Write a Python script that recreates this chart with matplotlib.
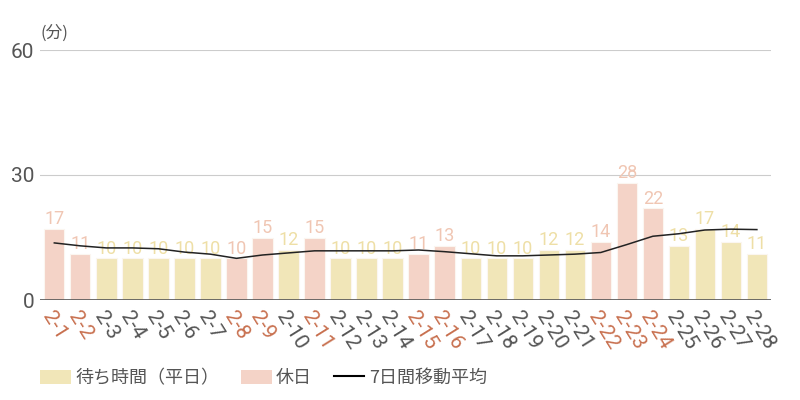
import numpy as np
import matplotlib.pyplot as plt
import matplotlib.transforms as mtransforms
from matplotlib.patches import Patch
from matplotlib.lines import Line2D

plt.rcParams['font.family'] = ['Noto Sans CJK JP', 'DejaVu Sans']

# data
dates = ['2-%d' % d for d in range(1, 29)]
wait_minutes = [17, 11, 10, 10, 10, 10, 10, 10, 15, 12, 15, 10, 10, 10,
                11, 13, 10, 10, 10, 12, 12, 14, 28, 22, 13, 17, 14, 11]
holidays = ['2-1', '2-2', '2-8', '2-9', '2-11', '2-15', '2-16',
            '2-22', '2-23', '2-24']
moving_avg = [13.7, 13.0, 12.5, 12.5, 12.3, 11.5, 11.0, 10.0, 10.8, 11.3,
              11.8, 11.8, 11.8, 11.8, 12.0, 11.6, 11.1, 10.6, 10.6, 10.8,
              11.0, 11.4, 13.3, 15.3, 15.9, 16.8, 17.0, 16.9]

weekday_color = '#F1E6B8'
holiday_color = '#F4D3C7'
weekday_text = '#EEDFA6'
holiday_text = '#F0C6B3'
holiday_tick = '#C8704F'
num_font = ['Roboto', 'DejaVu Sans']

fig = plt.figure(figsize=(8, 4), dpi=100)
ax = fig.add_axes([0.05, 0.25, 0.914, 0.625])

x = np.arange(len(dates))
is_hol = [d in holidays for d in dates]
colors = [holiday_color if h else weekday_color for h in is_hol]
ax.bar(x, wait_minutes, width=0.78, color=colors, edgecolor='#FBF6F0',
       linewidth=0.8, zorder=2)

for xi, v, h in zip(x, wait_minutes, is_hol):
    ax.text(xi, v + 0.2, str(v), ha='center', va='bottom', fontsize=13,
            color=holiday_text if h else weekday_text, family=num_font,
            zorder=3)

ax.plot(x, moving_avg, color='#222222', linewidth=1.1, zorder=4)

ax.set_xlim(-0.55, len(dates) - 0.45)
ax.set_ylim(0, 60)
ax.set_yticks([0, 30, 60])
ax.set_yticklabels(['0', '30', '60'], family=num_font, fontsize=15,
                   color='#555555')
ax.grid(axis='y', color='#CCCCCC', linewidth=0.8, zorder=0)
ax.axhline(0, color='#555555', linewidth=1.2, zorder=5)
for s in ax.spines.values():
    s.set_visible(False)
ax.tick_params(axis='both', length=0, pad=4)

ax.set_xticks(x)
ax.set_xticklabels(dates, rotation=-58, ha='left', va='top',
                   rotation_mode='anchor', fontsize=15, family=num_font)
shift = mtransforms.ScaledTranslation(4 / 100, 0, fig.dpi_scale_trans)
for lbl, h in zip(ax.get_xticklabels(), is_hol):
    lbl.set_color(holiday_tick if h else '#555555')
    lbl.set_transform(lbl.get_transform() + shift)
ax.tick_params(axis='x', pad=6)

fig.text(0.05, 0.918, '(分)', fontsize=12, color='#555555', ha='left',
         va='center')

handles = [Patch(facecolor=weekday_color, label='待ち時間（平日）'),
           Patch(facecolor=holiday_color, label='休日'),
           Line2D([0], [0], color='black', linewidth=1.5, label='7日間移動平均')]
leg = fig.legend(handles=handles, loc='center left', bbox_to_anchor=(0.05, 0.055),
                 ncol=3, frameon=False, fontsize=13, handlelength=1.7,
                 handleheight=0.85, columnspacing=1.2, handletextpad=0.25,
                 borderpad=0, borderaxespad=0)
for t in leg.get_texts():
    t.set_color('#555555')

fig.savefig('out.png', dpi=100)
